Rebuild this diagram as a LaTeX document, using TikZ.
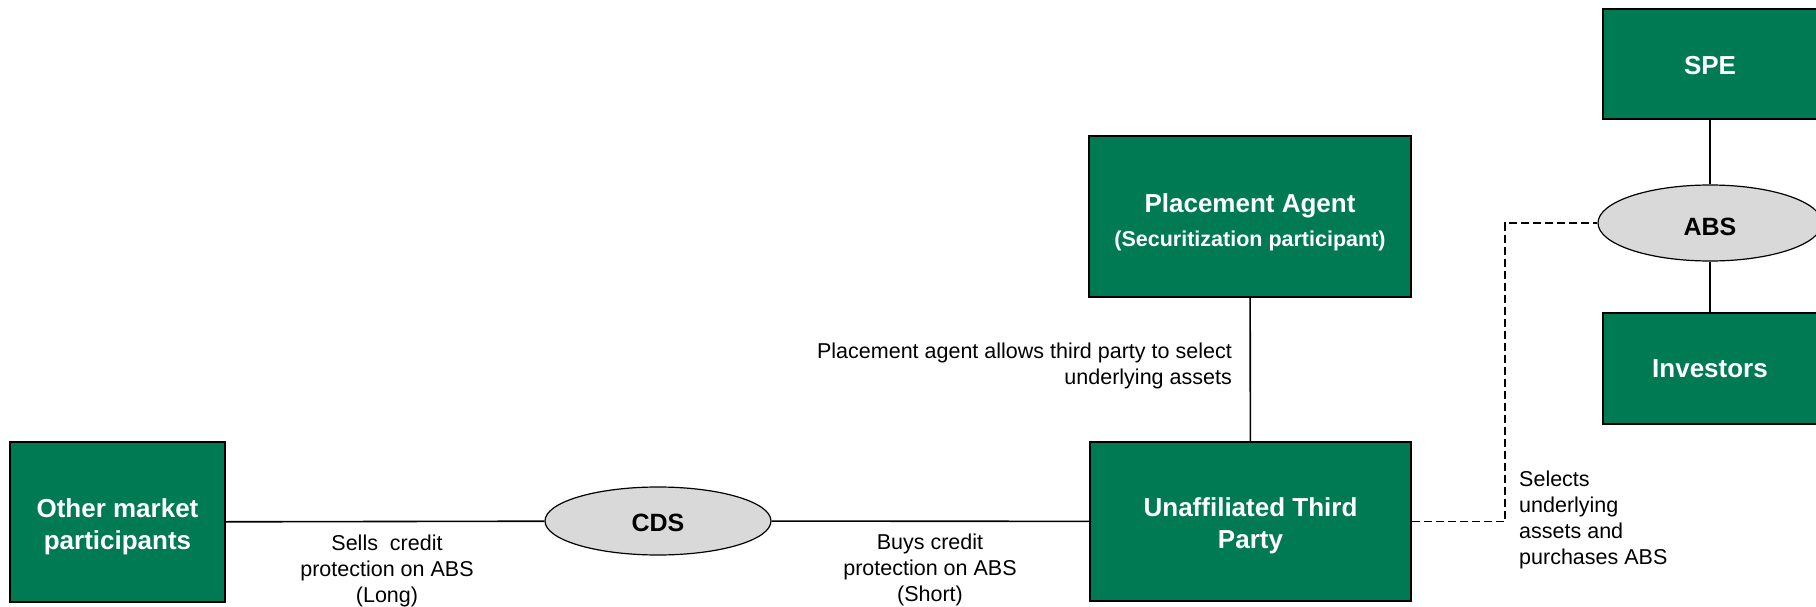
\documentclass[tikz,border=0pt]{standalone}
\usepackage{fontspec}
\setmainfont{Liberation Sans}
\usetikzlibrary{shapes.geometric}
\definecolor{boxgreen}{RGB}{0,122,82}
\definecolor{ellgray}{RGB}{217,217,217}
\begin{document}
\begin{tikzpicture}[x=1pt,y=-1pt,
  gbox/.style={draw=black, line width=1.5pt, fill=boxgreen, text=white,
    font=\fontsize{26}{32}\selectfont\bfseries, align=center, inner sep=0pt,
    text depth=-3pt},
  oval/.style={ellipse, draw=black, line width=1.2pt, fill=ellgray,
    font=\fontsize{25}{30}\selectfont\bfseries, inner sep=0pt},
  lbl/.style={font=\fontsize{21.5}{26}\selectfont, inner sep=0pt},
  link/.style={line width=1.6pt},
  dlink/.style={line width=1.5pt, dash pattern=on 8pt off 4pt}]
\useasboundingbox (0,0) rectangle (1816,607);

% boxes
\node[gbox, minimum width=214, minimum height=110] (spe) at (1710,64) {\rule{0pt}{22pt}SPE};
\node[oval, minimum width=224, minimum height=76] (abs) at (1710,223) {\rule{0pt}{26pt}ABS};
\node[gbox, minimum width=214, minimum height=111] (inv) at (1710,368.5) {Investors};
\node[gbox, minimum width=322, minimum height=161] (pa) at (1250,216.5)
  {\rule{0pt}{26pt}Placement Agent\\[2pt]{\fontsize{21.5}{26}\selectfont (Securitization participant)}};
\node[gbox, minimum width=321, minimum height=159] (utp) at (1250.5,521.5)
  {\rule{0pt}{22pt}Unaffiliated Third\\Party};
\node[gbox, minimum width=215, minimum height=160] (omp) at (117.5,522)
  {\rule{0pt}{22pt}Other market\\participants};
\node[oval, minimum width=226, minimum height=68] (cds) at (658,521) {\rule{0pt}{22pt}CDS};

% connectors
\draw[link] (spe) -- (abs);
\draw[link] (abs) -- (inv);
\draw[link] (pa) -- (utp);
\draw[link] (omp) -- (cds);
\draw[link] (cds) -- (utp);
\coordinate (bend) at (1505,521.5);
\draw[dlink] (utp.east) -- (bend) |- (abs.west);

% labels
\node[lbl, align=right, anchor=east] (lpa) at (1232,366)
  {Placement agent allows third party to select\\underlying assets};
\node[lbl, align=center] (lsell) at (387,571)
  {Sells\ \ credit\\protection on ABS\\(Long)};
\node[lbl, align=center] (lbuy) at (930,570)
  {Buys credit\\protection on ABS\\(Short)};
\node[lbl, align=left, anchor=west] (lsel) at (1519,520)
  {Selects\\underlying\\assets and\\purchases ABS};
\end{tikzpicture}
\end{document}
